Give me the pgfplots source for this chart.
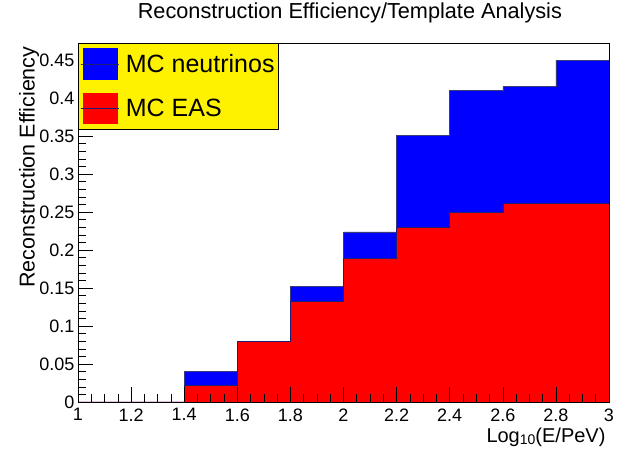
\documentclass[border=0pt]{standalone}
\usepackage{fontspec}
\setmainfont{Liberation Sans}
\usepackage{pgfplots}
\pgfplotsset{compat=1.18}
\definecolor{rootline}{RGB}{30,30,120}

\begin{document}
\begin{tikzpicture}
  \begin{axis}[
      scale only axis,
      width=531pt, height=359pt,
      xmin=1, xmax=3,
      ymin=0, ymax=0.4724,
      xtick={1,1.2,...,3.01},
      ytick={0,0.05,...,0.451},
      minor x tick num=3,
      minor y tick num=4,
      tick align=inside,
      xtick pos=bottom, ytick pos=left,
      major tick length=15pt, minor tick length=8pt,
      tick style={black, line width=0.6pt},
      axis line style={line width=0.8pt},
      /pgf/number format/assume math mode=true,
      /pgf/number format/fixed,
      /pgf/number format/precision=2,
      ticklabel style={font=\fontsize{18}{20}\selectfont},
      xticklabel style={yshift=-3pt},
      ylabel={Reconstruction Efficiency},
      ylabel style={font=\fontsize{21.5}{24}\selectfont, at={(axis description cs:-0.092,1)}, anchor=east},
      xlabel={Log{\raisebox{-0.25ex}{\fontsize{14}{16}\selectfont 10}}(E/PeV)},
      xlabel style={font=\fontsize{20}{22}\selectfont, at={(axis description cs:1,-0.0975)}, anchor=east},
      legend style={at={(0,1)}, anchor=north west, fill=yellow, draw=black,
        line width=0.6pt, font=\fontsize{25}{28}\selectfont,
        inner xsep=2pt, inner ysep=5pt, row sep=13pt, column sep=5pt},
      legend cell align=left,
      legend image code/.code={
        \path (-2pt,0pt) -- (36pt,0pt);
        \fill[#1, draw=none] (0pt,-15.8pt) rectangle (35.3pt,15.8pt);
        \draw[rootline, line width=0.6pt] (0pt,0pt) -- (35.3pt,0pt);
      },
      axis on top,
    ]
    \addplot[const plot mark left, fill=blue, draw=rootline!70!gray, line width=0.6pt] coordinates {
      (1.0,0) (1.2,0) (1.4,0.0404) (1.6,0.0795) (1.8,0.1526) (2.0,0.2237)
      (2.2,0.351) (2.4,0.410) (2.6,0.415) (2.8,0.450) (3.0,0.450)
    } \closedcycle;
    \addlegendentry{MC neutrinos}
    \addplot[const plot mark left, fill=red, draw=rootline, line width=0.6pt] coordinates {
      (1.0,0) (1.2,0) (1.4,0.0215) (1.6,0.0795) (1.8,0.1325) (2.0,0.189)
      (2.2,0.2294) (2.4,0.249) (2.6,0.261) (2.8,0.2614) (3.0,0.2614)
    } \closedcycle;
    \addlegendentry{MC EAS}
    \coordinate (bbsw) at (rel axis cs:-0.1469,-0.1476);
    \coordinate (bbne) at (rel axis cs:1.0452,1.1198);
    \coordinate (titlepos) at (rel axis cs:0.512,1.068);
  \end{axis}
  \node[anchor=base, inner sep=0pt, font=\fontsize{21.7}{24}\selectfont] at (titlepos)
    {Reconstruction Efficiency/Template Analysis};
  \pgfresetboundingbox
  \useasboundingbox (bbsw) rectangle (bbne);
\end{tikzpicture}
\end{document}
